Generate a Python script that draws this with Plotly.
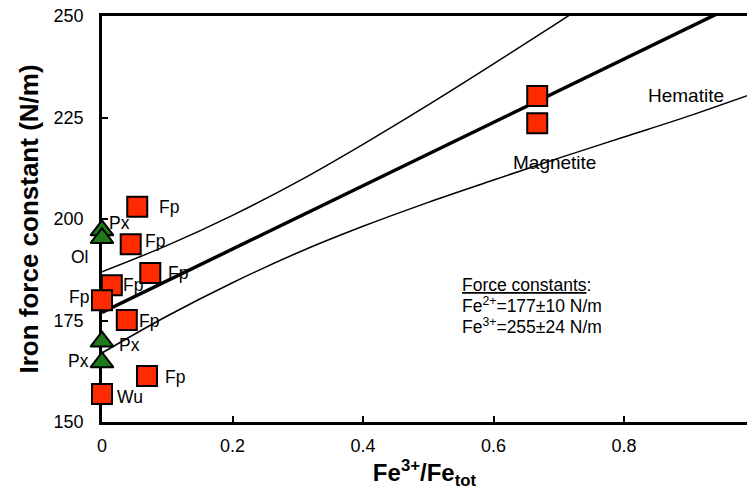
import plotly.graph_objects as go

# ---- data ----
fp_x = [0.054, 0.044, 0.074, 0.015, 0.0, 0.038, 0.069, 0.0]
fp_y = [203.0, 193.8, 186.7, 183.7, 180.0, 175.1, 161.3, 156.9]
oxide_x = [0.667, 0.667, 1.0]
oxide_y = [230.3, 223.6, 238.9]
sil_x = [0.0, 0.0, 0.0, 0.0]
sil_y = [197.2, 195.3, 169.8, 164.7]

fit_x = [0.0, 1.0]
fit_y = [177.0, 255.0]
band_x = [0.0, 0.1, 0.2, 0.3, 0.4, 0.5, 0.6, 0.7, 0.8, 0.9, 1.0]
upper_y = [187.0, 193.5, 200.9, 209.2, 218.4, 228.1, 238.2, 248.5, 259.0, 269.2, 279.0]
lower_y = [167.0, 176.1, 184.3, 191.7, 198.2, 204.1, 209.6, 215.0, 220.2, 225.4, 231.0]

labels = ["Fp", "Px", "Fp", "Ol", "Fp", "Fp", "Fp", "Fp", "Px", "Px", "Fp", "Wu", "Magnetite", "Hematite"]
label_x = [0.084, 0.008, 0.063, 0.0, 0.098, 0.029, 0.0, 0.054, 0.023, 0.0, 0.093, 0.020, 0.694, 0.895]
label_y = [203.0, 199.0, 194.6, 190.6, 186.7, 183.7, 180.8, 174.9, 169.0, 165.0, 161.1, 156.2, 213.8, 230.5]
label_anchor = ["left", "left", "left", "right", "left", "left", "right", "left", "left", "right", "left", "left", "center", "center"]
label_size = [17.5] * 12 + [19, 19]

x_ticks = [0, 0.2, 0.4, 0.6, 0.8]
y_ticks = [150, 175, 200, 225, 250]

FONT = "Liberation Sans, Arial, Helvetica, sans-serif"
RED = "#ff2a00"
GREEN = "#1f7a1a"

fig = go.Figure()
fig.add_trace(go.Scatter(x=band_x, y=upper_y, mode="lines", line=dict(color="black", width=1.5, shape="spline"), hoverinfo="skip"))
fig.add_trace(go.Scatter(x=band_x, y=lower_y, mode="lines", line=dict(color="black", width=1.5, shape="spline"), hoverinfo="skip"))
fig.add_trace(go.Scatter(x=fit_x, y=fit_y, mode="lines", line=dict(color="black", width=3.5), hoverinfo="skip"))
fig.add_trace(go.Scatter(x=sil_x, y=sil_y, mode="markers", cliponaxis=False,
                         marker=dict(symbol="triangle-up", size=20, color=GREEN, line=dict(color="black", width=2))))
fig.add_trace(go.Scatter(x=fp_x + oxide_x, y=fp_y + oxide_y, mode="markers", cliponaxis=False,
                         marker=dict(symbol="square", size=20, color=RED, line=dict(color="black", width=2))))

for t, lx, ly, a, s in zip(labels, label_x, label_y, label_anchor, label_size):
    fig.add_annotation(x=lx, y=ly, xref="x", yref="y", text=t, showarrow=False,
                       xanchor=a, yanchor="middle", xshift=(-11 if a == "right" else 0),
                       font=dict(size=s, color="black", family=FONT))

info = ["<u>Force constants</u>:", "Fe<sup>2+</sup>=177±10 N/m", "Fe<sup>3+</sup>=255±24 N/m"]
info_y = [0.3374, 0.2882, 0.2365]
for t, yy in zip(info, info_y):
    fig.add_annotation(x=0.555, y=yy, xref="x domain", yref="y domain", text=t, showarrow=False,
                       xanchor="left", yanchor="middle", align="left",
                       font=dict(size=17.5, color="black", family=FONT))

fig.update_layout(
    template="none",
    width=747, height=501,
    margin=dict(l=102, r=0, t=16, b=79, autoexpand=False),
    paper_bgcolor="white", plot_bgcolor="white",
    showlegend=False,
    font=dict(family=FONT, color="black", size=18),
)
fig.update_xaxes(range=[0, 0.9885], tickvals=x_ticks, ticktext=["0", "0.2", "0.4", "0.6", "0.8"],
                 automargin=False, ticklabeloverflow="allow",
                 showgrid=False, zeroline=False, showline=True, linecolor="black", linewidth=2.5,
                 mirror=True, ticks="inside", ticklen=6, tickwidth=2, tickcolor="black",
                 tickfont=dict(size=18), ticklabelstandoff=6, layer="below traces",
                 title=dict(text="<b>Fe<sup>3+</sup>/Fe<sub>tot</sub></b>", font=dict(size=24), standoff=2))
fig.update_yaxes(range=[150, 250], tickvals=y_ticks, automargin=False, ticklabeloverflow="allow",
                 showgrid=False, zeroline=False, showline=True, linecolor="black", linewidth=2.5,
                 mirror=True, ticks="inside", ticklen=6, tickwidth=2, tickcolor="black",
                 tickfont=dict(size=18), ticklabelstandoff=12, layer="below traces",
                 title=dict(text="<b>Iron force constant (N/m)</b>", font=dict(size=26), standoff=8))

fig.write_html("out.html", config={"displayModeBar": False},
               post_script="document.body.style.margin='0';")
